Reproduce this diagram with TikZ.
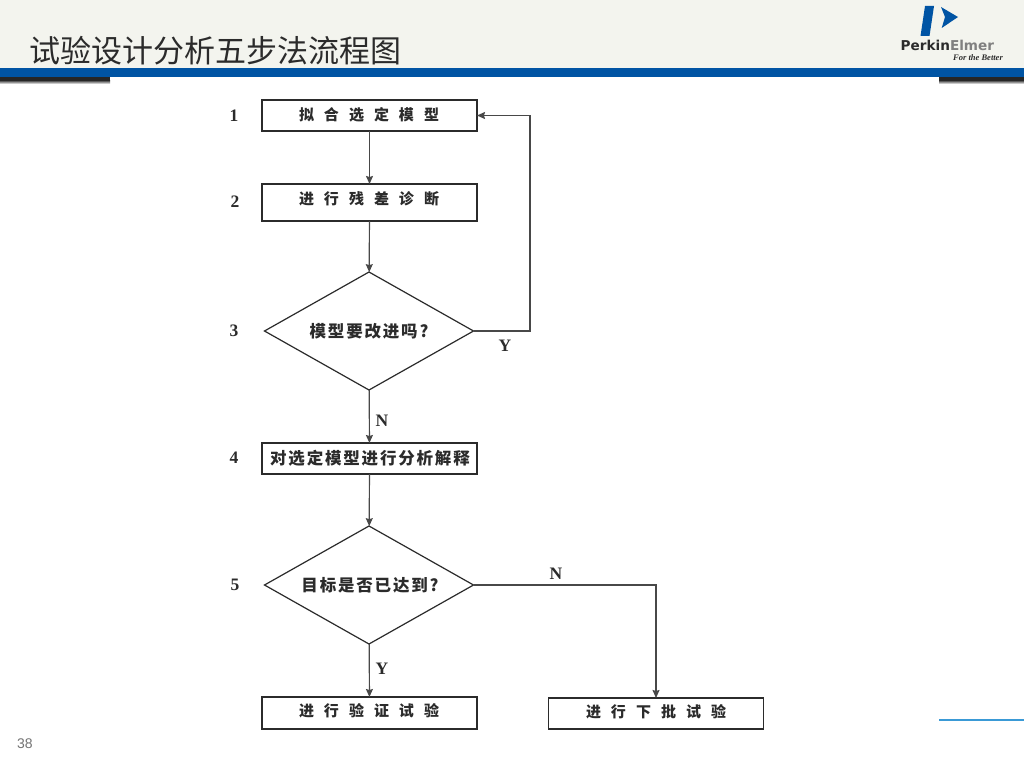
\documentclass[tikz,border=0pt]{standalone}
\usepackage{fontspec}
\setmainfont{Liberation Serif}
\newfontfamily\cjk{Noto Sans CJK SC}
\newfontfamily\cjkspaced[LetterSpace=11]{Noto Sans CJK SC}
\newfontfamily\lsans{DejaVu Sans}
\newfontfamily\pagesans{Liberation Sans}
\usetikzlibrary{shapes.geometric,arrows.meta}
\definecolor{headbg}{HTML}{F3F4EE}
\definecolor{barblue}{HTML}{0054A4}
\definecolor{inkc}{HTML}{2B2B2B}
\definecolor{wirec}{HTML}{484848}
\definecolor{lineblue}{HTML}{3A9AD6}
\newcommand{\gp}{\hspace{10pt}}
\tikzset{
  x=1pt,y=-1pt,
  flowbox/.style={draw=inkc,line width=1.5pt,rectangle,minimum width=215pt,inner sep=0pt,outer sep=0pt,fill=white},
  boxtext/.style={inner sep=0pt,font=\cjk\fontsize{15}{15}\selectfont\bfseries,text=inkc},
  widetext/.style={inner sep=0pt,font=\cjkspaced\fontsize{16.5}{16.5}\selectfont\bfseries,text=inkc},
  decision/.style={draw=inkc,line width=1.2pt,diamond,aspect=1.77,minimum width=209pt,minimum height=118pt,inner sep=0pt,outer sep=0pt},
  wire/.style={draw=wirec,line width=1.2pt},
  arrowwire/.style={wire,-{Stealth[length=8pt,width=7pt,inset=1pt]}},
  tag/.style={font=\fontsize{17.5}{18}\selectfont\bfseries,text=inkc,inner sep=0pt}
}
\begin{document}
\begin{tikzpicture}
\useasboundingbox (0,0) rectangle (1024,768);
\fill[white] (0,0) rectangle (1024,768);
\fill[headbg] (0,0) rectangle (1024,68);
\fill[black!85] (0,77) rectangle (110,80);
\fill[black!85] (939,77) rectangle (1024,80);
\shade[top color=black!85,bottom color=white] (0,80) rectangle (110,84);
\shade[top color=black!85,bottom color=white] (939,80) rectangle (1024,84);
\fill[barblue] (0,68) rectangle (1024,77);
\node[anchor=west,inner sep=0pt,font=\cjk\fontsize{31}{31}\selectfont,text=inkc] (title) at (29,51) {试验设计分析五步法流程图};
% logo
\fill[barblue] (925,6) -- (934,6) -- (929.5,36) -- (920.5,36) -- cycle;
\fill[barblue] (941,7) -- (958,17) -- (941.7,28) -- (945,17) -- cycle;
\node[anchor=west,inner sep=0pt,font=\lsans\fontsize{13.6}{14}\selectfont\bfseries] (brand) at (900.5,45.5) {\textcolor{inkc}{Perkin}\textcolor{black!50}{Elmer}};
\node[anchor=east,inner sep=0pt,font=\fontsize{8.5}{9}\selectfont\itshape\bfseries,text=inkc] (motto) at (1003,58) {For the Better};
% flow
\node[flowbox,minimum height=31pt] (b1) at (369.5,115.5) {};
\node[boxtext] (t1) at (369,115) {拟\gp 合\gp 选\gp 定\gp 模\gp 型};
\node[flowbox,minimum height=37pt] (b2) at (369.5,202.5) {};
\node[boxtext] (t2) at (369,199) {进\gp 行\gp 残\gp 差\gp 诊\gp 断};
\node[decision] (d3) at (369,331) {};
\node[widetext] (t3) at (369,331) {模型要改进吗?};
\node[flowbox,minimum height=31pt] (b4) at (369.5,458.5) {};
\node[widetext] (t4) at (370,458) {对选定模型进行分析解释};
\node[decision] (d5) at (369,585) {};
\node[widetext] (t5) at (370,585) {目标是否已达到?};
\node[flowbox,minimum height=32pt] (b6) at (369.5,713) {};
\node[boxtext] (t6) at (369,711) {进\gp 行\gp 验\gp 证\gp 试\gp 验};
\node[flowbox,minimum height=31pt] (b7) at (656,713.5) {};
\node[boxtext] (t7) at (656,712) {进\gp 行\gp 下\gp 批\gp 试\gp 验};
\coordinate (c3) at (530,331);
\coordinate (c1) at (530,115.5);
\coordinate (c5) at (656,585);
\draw[arrowwire] (b1) -- (b2);
\draw[arrowwire] (b2) -- (d3);
\draw[arrowwire] (d3) -- (b4);
\draw[arrowwire] (b4) -- (d5);
\draw[arrowwire] (d5) -- (b6);
\draw[arrowwire] (d3.east) -- (c3) -- (c1) -- (b1.east);
\draw[arrowwire] (d5.east) -- (c5) -- (b7.north);
\node[tag] (n1) at (234,116) {1};
\node[tag] (n2) at (235,202) {2};
\node[tag] (n3) at (234,331) {3};
\node[tag] (n4) at (234,458) {4};
\node[tag] (n5) at (235,585) {5};
\node[tag] (ly3) at (505,346) {Y};
\node[tag] (ln3) at (382,421) {N};
\node[tag] (ln5) at (556,574) {N};
\node[tag] (ly5) at (382,669) {Y};
\draw[lineblue,line width=2.5pt] (939,720) -- (1024,720);
\node[inner sep=0pt,font=\pagesans\fontsize{14}{14}\selectfont,text=black!55] (page) at (25,744) {38};
\end{tikzpicture}
\end{document}
